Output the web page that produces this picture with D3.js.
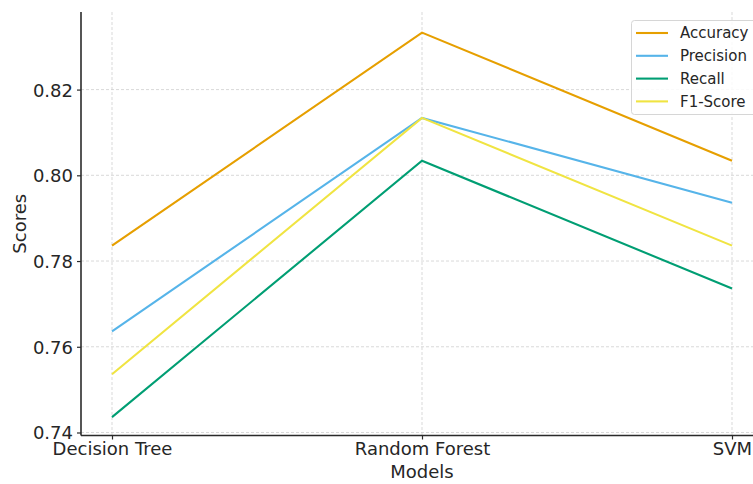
<!DOCTYPE html>
<html><head><meta charset="utf-8">
<script src="https://cdn.jsdelivr.net/npm/d3@7"></script>
<style>body{margin:0;background:#fff}svg{display:block;font-family:"DejaVu Sans",sans-serif}</style>
</head><body>
<svg id="c" width="753" height="484"></svg>
<script>
const categories = ["Decision Tree", "Random Forest", "SVM"];
const seriesNames = ["Accuracy", "Precision", "Recall", "F1-Score"];
const accuracy = [0.7836, 0.8333, 0.8034];
const precision = [0.7636, 0.8134, 0.7936];
const recall = [0.7436, 0.8034, 0.7736];
const f1score = [0.7536, 0.8134, 0.7836];
const yTicks = [0.74, 0.76, 0.78, 0.80, 0.82];
const colors = ["#E69F00", "#56B4E9", "#009E73", "#F0E442"];
const seriesValues = [accuracy, precision, recall, f1score];

(function () {
const svg = d3.select("#c");
const mLeft = 81, mBottom = 435.5, mTop = 12, mRight = 763;
const x = d3.scaleLinear().domain([-0.1, categories.length - 1 + 0.1]).range([mLeft, mRight]);
const y = d3.scaleLinear().domain([0.7393, 0.8381]).range([mBottom, mTop]);

// grid
const grid = svg.append("g").attr("stroke", "#cfcfcf").attr("stroke-width", 0.8).attr("stroke-dasharray", "3,2");
yTicks.forEach(t => grid.append("line").attr("x1", mLeft).attr("x2", 753).attr("y1", y(t)).attr("y2", y(t)));
categories.forEach((c, i) => grid.append("line").attr("x1", x(i)).attr("x2", x(i)).attr("y1", mTop).attr("y2", mBottom));

// lines
const line = d3.line().x((d, i) => x(i)).y(d => y(d));
seriesValues.forEach((vals, k) => {
  svg.append("path").attr("d", line(vals)).attr("fill", "none")
    .attr("stroke", colors[k]).attr("stroke-width", 2.1);
});

// axes
const yAxis = d3.axisLeft(y).tickValues(yTicks).tickFormat(d3.format(".2f")).tickSize(4).tickPadding(4);
const gy = svg.append("g").attr("transform", `translate(${mLeft},0)`).call(yAxis);
gy.select(".domain").attr("d", `M0,${mTop}V${mBottom}`);
const xAxis = d3.axisBottom(x).tickValues(categories.map((c, i) => i)).tickFormat(i => categories[i]).tickSize(4).tickPadding(3);
const gx = svg.append("g").attr("transform", `translate(0,${mBottom})`).call(xAxis);
gx.select(".domain").attr("d", `M${mLeft},0H753`);
[gx, gy].forEach(g => {
  g.select(".domain").attr("stroke", "#2b2b2b").attr("stroke-width", 1.6);
  g.selectAll(".tick line").attr("stroke", "#2b2b2b").attr("stroke-width", 1.2);
  g.selectAll(".tick text").attr("fill", "#262626").style("font-size", "18px").style("font-family", "DejaVu Sans");
});
gy.selectAll(".tick text").attr("dy", "0.36em");

// axis labels
svg.append("text").attr("x", x(1)).attr("y", 478).attr("text-anchor", "middle")
  .attr("fill", "#262626").style("font-size", "18px").text("Models");
svg.append("text").attr("transform", `translate(26,${(mTop + mBottom) / 2}) rotate(-90)`).attr("text-anchor", "middle")
  .attr("fill", "#262626").style("font-size", "18px").text("Scores");

// legend
const lg = svg.append("g");
lg.append("rect").attr("x", 631.5).attr("y", 20.5).attr("width", 130).attr("height", 94).attr("rx", 3)
  .attr("fill", "#fff").attr("fill-opacity", 0.85).attr("stroke", "#d6d6d6").attr("stroke-width", 1);
seriesNames.forEach((n, k) => {
  const yy = 33 + k * 22.8;
  lg.append("line").attr("x1", 636).attr("x2", 668).attr("y1", yy).attr("y2", yy)
    .attr("stroke", colors[k]).attr("stroke-width", 2.1);
  lg.append("text").attr("x", 680).attr("y", yy).attr("dy", "0.36em").attr("fill", "#262626")
    .style("font-size", "15px").text(n);
});
})();
</script>
</body></html>
